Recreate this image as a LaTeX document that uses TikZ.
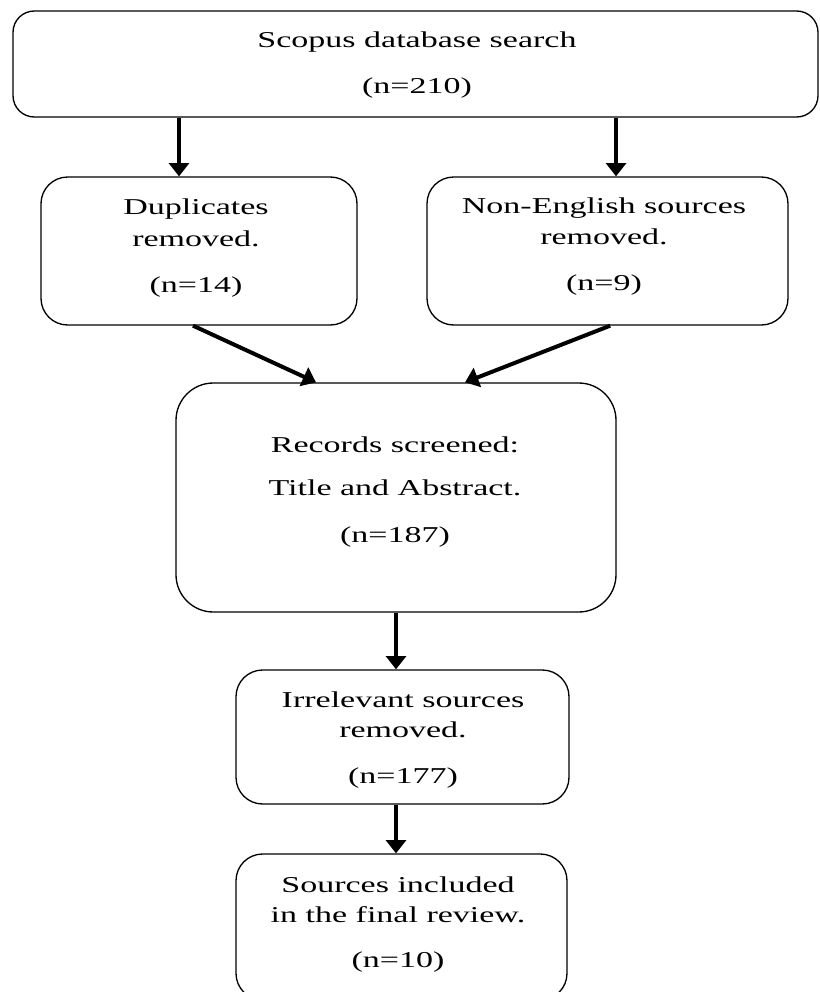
\documentclass[tikz,border=0pt]{standalone}
\usepackage{fontspec}
\setmainfont{Liberation Serif}
\usepackage{graphicx}
\usetikzlibrary{arrows.meta}
\tikzset{
  box/.style={draw, line width=1pt, rounded corners=#1, inner sep=0pt},
  box/.default=20pt,
  txt/.style={anchor=base, inner sep=0pt, font=\fontsize{17}{20}\selectfont},
  arr/.style={line width=3pt, -{Triangle[length=10pt,width=15pt]}},
}
\newcommand{\st}[1]{\scalebox{1.5}[1]{#1}}
\begin{document}
\begin{tikzpicture}[x=0.75pt,y=-0.75pt]
\path[use as bounding box, clip] (0,0) rectangle (819,992);
% boxes
\node[box=16pt, minimum width=603.75pt, minimum height=79.5pt] (top) at (415.5,64) {};
\node[box=20pt, minimum width=237pt, minimum height=111pt] (dup) at (199,251) {};
\node[box=20pt, minimum width=270.75pt, minimum height=111pt] (non) at (607.5,251) {};
\node[box=28pt, minimum width=330pt, minimum height=171.75pt] (rec) at (396,497.5) {};
\node[box=20pt, minimum width=249.75pt, minimum height=100.5pt] (irr) at (402.5,737) {};
\node[box=20pt, minimum width=248.25pt, minimum height=109.5pt] (src) at (401.5,927) {};
% arrows
\draw[arr] ([xshift=-15pt]dup.north |- top.south) -- ([xshift=-15pt]dup.north);
\draw[arr] ([xshift=6.4pt]non.north |- top.south) -- ([xshift=6.4pt]non.north);
\draw[arr] ([xshift=-4.5pt]dup.south) -- ([xshift=-60pt]rec.north);
\draw[arr] ([xshift=2pt]non.south) -- ([xshift=51.75pt]rec.north);
\draw[arr] (rec.south) -- (rec.south |- irr.north);
\draw[arr] (rec.south |- irr.south) -- (rec.south |- src.north);
% texts
\node[txt] (t1) at (417,47) {\st{Scopus database search}};
\node[txt] (t2) at (417,93) {\st{(n=210)}};
\node[txt] (d1) at (196,214) {\st{Duplicates}};
\node[txt] (d2) at (196,246) {\st{removed.}};
\node[txt] (d3) at (196,292) {\st{(n=14)}};
\node[txt] (n1) at (604,213) {\st{Non-English sources}};
\node[txt] (n2) at (604,244) {\st{removed.}};
\node[txt] (n3) at (604,290) {\st{(n=9)}};
\node[txt] (r1) at (395,452) {\st{Records screened:}};
\node[txt] (r2) at (395,495) {\st{Title and Abstract.}};
\node[txt] (r3) at (395,542) {\st{(n=187)}};
\node[txt] (i1) at (403,707) {\st{Irrelevant sources}};
\node[txt] (i2) at (403,737) {\st{removed.}};
\node[txt] (i3) at (403,783) {\st{(n=177)}};
\node[txt] (s1) at (398,892) {\st{Sources included}};
\node[txt] (s2) at (398,922) {\st{in the final review.}};
\node[txt] (s3) at (398,967) {\st{(n=10)}};
\end{tikzpicture}
\end{document}
